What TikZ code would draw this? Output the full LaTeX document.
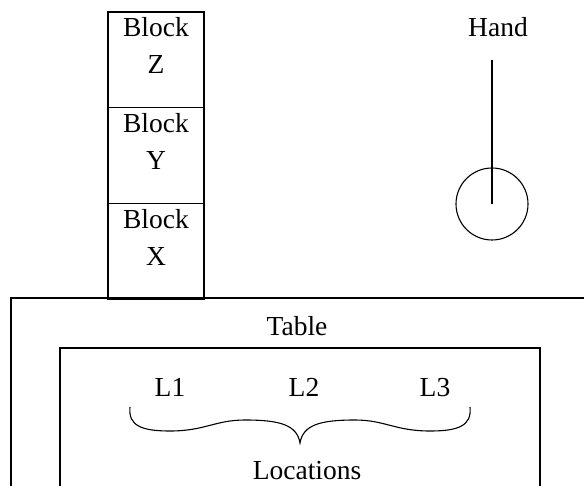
\documentclass[tikz,border=0pt]{standalone}
\usepackage{fontspec}
\setmainfont{Liberation Serif}
\begin{document}
\begin{tikzpicture}[x=1pt,y=-1pt,
  every node/.style={font=\fontsize{27.5}{37}\selectfont},
  line/.style={line width=1.1pt},
  blockbox/.style={draw,line width=1.1pt,minimum width=96pt,minimum height=95.67pt,inner sep=0pt},
  blocklabel/.style={anchor=north,align=center,inner sep=6pt},
  txt/.style={anchor=base,inner sep=0pt}]
\useasboundingbox (0,0) rectangle (584,486);
\clip (0,0) rectangle (584,486);
% stack of blocks
\node[blockbox] (bz) at (156,59.83) {};
\node[blockbox] (by) at (156,155.5) {};
\node[blockbox] (bx) at (156,251.17) {};
\node[blocklabel] (lz) at (bz.north) {Block\\Z};
\node[blocklabel] (ly) at (by.north) {Block\\Y};
\node[blocklabel] (lx) at (bx.north) {Block\\X};
% hand
\node[txt] (hand) at (498,37) {Hand};
\node[draw,circle,line width=1.1pt,minimum size=72pt,inner sep=0pt] (grip) at (492,204) {};
\coordinate (armtop) at (492,60);
\draw[line] (armtop) -- (grip.center);
% table and its locations
\draw[line] (11,600) -- (11,298) -- (700,298);
\node[txt] (table) at (297,336) {Table};
\draw[line] (60,600) -- (60,348) -- (540,348) -- (540,600);
\node[txt] (l1) at (170,397) {L1};
\node[txt] (l2) at (304,397) {L2};
\node[txt] (l3) at (435,397) {L3};
% curly brace grouping the locations
\draw[line,line join=miter]
  (130,407) .. controls (128,426) and (142,431) .. (170,431)
  .. controls (205,431) and (215,420) .. (245,420)
  .. controls (280,420) and (297,425) .. (300,443)
  .. controls (303,425) and (320,420) .. (355,420)
  .. controls (385,420) and (395,431) .. (430,431)
  .. controls (458,431) and (472,426) .. (470,407);
\node[txt] (loc) at (307,479) {Locations};
\end{tikzpicture}
\end{document}
